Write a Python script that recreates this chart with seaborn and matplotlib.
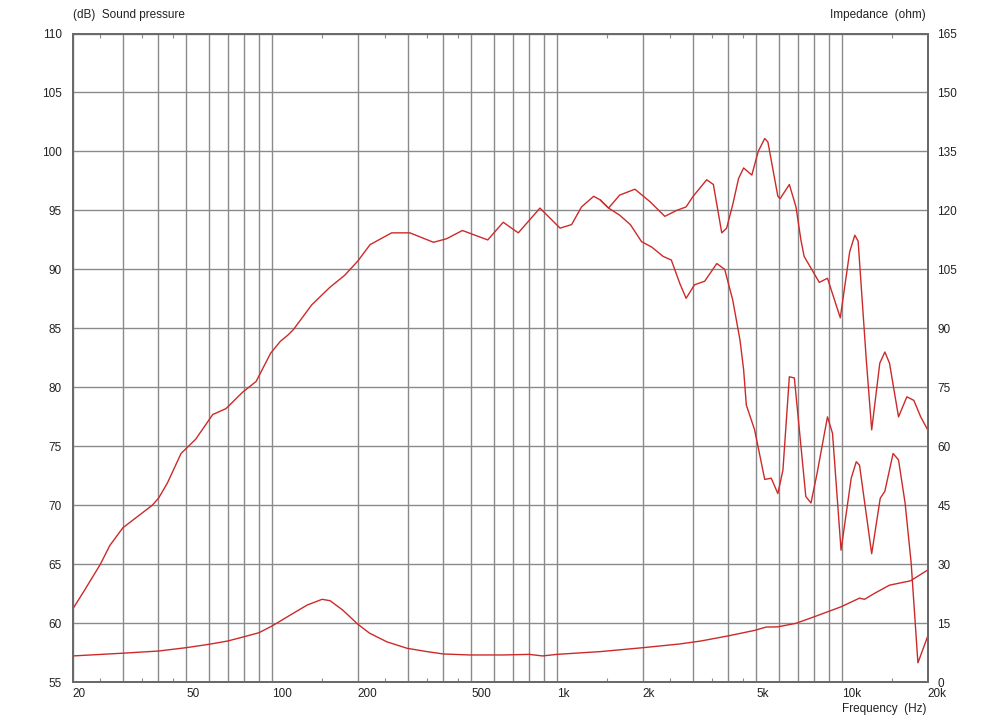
import matplotlib
matplotlib.use("Agg")
import matplotlib.pyplot as plt
from matplotlib.ticker import NullFormatter, FixedLocator
import seaborn as sns
import pandas as pd

# ---------------- data ----------------
spl_on_freq = [20, 22, 25, 27, 30, 38, 40, 43, 48, 54, 62, 69, 79, 88, 99, 107, 114, 119, 138, 160,
               180, 200, 221, 263, 305, 369, 410, 466, 572, 648, 732, 872, 1026, 1126, 1220, 1346,
               1418, 1518, 1660, 1878, 2120, 2392, 2630, 2840, 3006, 3354, 3540, 3788, 3940, 4140,
               4338, 4520, 4830, 5085, 5360, 5500, 5960, 6070, 6540, 6900, 7180, 7370, 8330, 8900,
               9870, 10650, 11100, 11400, 12180, 12720, 13580, 14150, 14690, 15800, 16900, 17880,
               18900, 20000]
spl_on_db = [61.2, 62.8, 65.0, 66.6, 68.1, 70.0, 70.6, 71.9, 74.4, 75.6, 77.7, 78.2, 79.6, 80.5, 82.9,
             83.9, 84.45, 84.9, 87.0, 88.5, 89.5, 90.7, 92.1, 93.1, 93.1, 92.3, 92.6, 93.3, 92.5,
             94.0, 93.1, 95.2, 93.5, 93.8, 95.3, 96.2, 95.9, 95.2, 96.3, 96.8, 95.75, 94.5, 95.0,
             95.3, 96.2, 97.6, 97.2, 93.1, 93.5, 95.5, 97.7, 98.6, 98.0, 100.0, 101.1, 100.8, 96.2,
             96.0, 97.2, 95.3, 92.5, 91.1, 88.9, 89.25, 85.9, 91.5, 92.9, 92.4, 82.3, 76.4, 82.05,
             83.0, 82.05, 77.5, 79.2, 78.9, 77.5, 76.4]

spl_off_freq = [1418, 1518, 1660, 1810, 1982, 2150, 2360, 2520, 2700, 2840, 3040, 3300, 3640, 3880,
                4140, 4390, 4520, 4620, 4940, 5360, 5650, 5960, 6210, 6540, 6810, 7470, 7790, 8180,
                8900, 9270, 9930, 10780, 11230, 11530, 12720, 13630, 14150, 15120, 15800, 16660,
                17500, 18480, 20000]
spl_off_db = [95.9, 95.2, 94.6, 93.8, 92.35, 91.9, 91.1, 90.8, 88.8, 87.55, 88.7, 89.0, 90.5, 90.0,
              87.4, 84.0, 81.5, 78.5, 76.4, 72.2, 72.3, 71.0, 73.0, 80.9, 80.8, 70.75, 70.2, 72.7,
              77.5, 76.1, 66.2, 72.3, 73.7, 73.4, 65.9, 70.6, 71.2, 74.4, 73.85, 70.2, 65.1, 56.65,
              58.9]

imp_freq = [20, 30, 40, 50, 60, 70, 80, 90, 100, 116, 133, 150, 160, 177, 200, 220, 253, 298, 350,
            400, 495, 650, 800, 890, 1000, 1418, 2005, 2700, 3200, 3990, 4940, 5420, 5960, 6900,
            8020, 9930, 11530, 12000, 13000, 14690, 16100, 17400, 20000]
imp_ohm = [6.7, 7.4, 7.95, 8.8, 9.65, 10.5, 11.6, 12.6, 14.3, 17.1, 19.65, 21.1, 20.75, 18.4, 14.8,
           12.5, 10.3, 8.65, 7.8, 7.2, 6.95, 6.95, 7.1, 6.7, 7.1, 7.8, 8.8, 9.75, 10.5, 11.8, 13.2,
           14.05, 14.1, 15.0, 16.7, 19.2, 21.4, 21.1, 22.6, 24.7, 25.3, 25.8, 28.55]

grid_freqs = [20, 30, 40, 50, 60, 70, 80, 90, 100, 200, 300, 400, 500, 600, 700, 800, 900,
              1000, 2000, 3000, 4000, 5000, 6000, 7000, 8000, 9000, 10000, 20000]
labelled = {20: "20", 50: "50", 100: "100", 200: "200", 500: "500", 1000: "1k",
            2000: "2k", 5000: "5k", 10000: "10k", 20000: "20k"}
minor_freqs = [25, 35, 45, 150, 250, 350, 450, 1500, 2500, 3500, 4500, 15000]
db_ticks = list(range(55, 111, 5))
ohm_ticks = list(range(0, 166, 15))

# ---------------- style ----------------
sns.set_style("white")
plt.rcParams["font.family"] = ["Liberation Sans", "DejaVu Sans"]
plt.rcParams["font.size"] = 8.5

RED = "#cc2a2a"
GRID = "#8a8a8a"
FRAME = "#6a6a6a"
TXT = "#222222"
FS = 8.5

fig = plt.figure(figsize=(10, 7.22), dpi=100)
ax = fig.add_axes([0.0727, 0.0550, 0.855, 0.8986])
ax2 = ax.twinx()

df_on = pd.DataFrame({"f": spl_on_freq, "v": spl_on_db})
df_off = pd.DataFrame({"f": spl_off_freq, "v": spl_off_db})
df_imp = pd.DataFrame({"f": imp_freq, "v": imp_ohm})

sns.lineplot(data=df_on, x="f", y="v", ax=ax, color=RED, lw=1.0)
sns.lineplot(data=df_off, x="f", y="v", ax=ax, color=RED, lw=1.0)
sns.lineplot(data=df_imp, x="f", y="v", ax=ax2, color=RED, lw=1.0)

ax.set_xscale("log")
ax.set_xlim(20, 20000)
for a in (ax, ax2):
    a.set_xlabel("")
    a.set_ylabel("")

ax.set_ylim(55, 110)
ax2.set_ylim(0, 165)

ax.xaxis.set_major_locator(FixedLocator(grid_freqs))
ax.set_xticklabels([labelled.get(f, "") for f in grid_freqs])
ax.xaxis.set_minor_locator(FixedLocator(minor_freqs))
ax.xaxis.set_minor_formatter(NullFormatter())
for lbl in ax.get_xticklabels():
    lbl.set_ha("left")
ax.tick_params(axis="x", which="major", length=0, pad=4, labelsize=FS, labelcolor=TXT)
ax.tick_params(axis="x", which="minor", direction="in", length=3, width=0.8, color=GRID,
               top=True, bottom=True)

ax.set_yticks(db_ticks)
ax.tick_params(axis="y", length=0, pad=8, labelsize=FS, labelcolor=TXT)
ax2.set_yticks(ohm_ticks)
ax2.tick_params(axis="y", length=0, pad=7, labelsize=FS, labelcolor=TXT)

ax.grid(True, which="major", axis="both", color=GRID, lw=1.0)
ax.set_axisbelow(True)
ax2.grid(False)

for a in (ax, ax2):
    for s in a.spines.values():
        s.set_color(FRAME)
        s.set_linewidth(1.4)

fig.text(0.0727, 1 - 15 / 722, "(dB)  Sound pressure", ha="left", va="center", fontsize=FS, color=TXT)
fig.text(0.926, 1 - 15 / 722, "Impedance  (ohm)", ha="right", va="center", fontsize=FS, color=TXT)
fig.text(0.926, 1 - 709 / 722, "Frequency  (Hz)", ha="right", va="center", fontsize=FS, color=TXT)

fig.savefig("out.png", dpi=100, facecolor="white")
